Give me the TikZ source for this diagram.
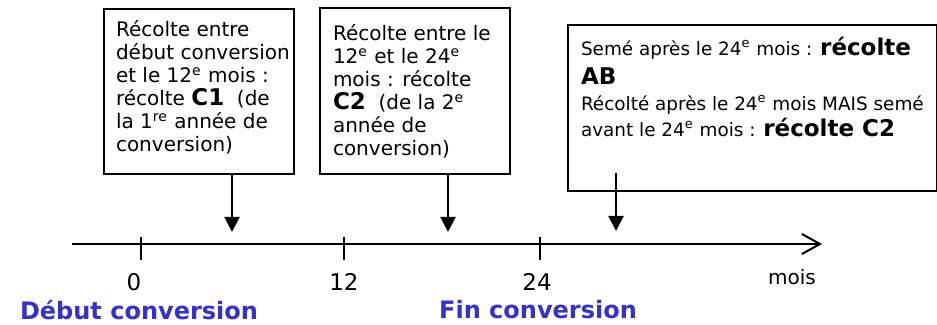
\documentclass[tikz,border=0pt]{standalone}
\usepackage{fontspec}
\setmainfont{DejaVu Sans}
\usepackage{tikz}
\usetikzlibrary{arrows.meta}
\definecolor{convblue}{RGB}{51,51,204}

\newcommand{\bigbold}[1]{{\fontsize{11.5}{13}\selectfont\bfseries #1}}

\begin{document}
\begin{tikzpicture}[
    x=0.5pt, y=-0.5pt,
    infobox/.style={
        draw, line width=1pt, anchor=north west,
        inner xsep=6pt, inner ysep=6pt,
        font=\fontsize{10}{11.5}\selectfont
    },
    drop arrow/.style={line width=1pt, -{Triangle[length=7.5pt,width=7.5pt]}},
    time axis/.style={line width=1pt, -{Straight Barb[length=9pt,width=10pt]}},
    month tick/.style={line width=0.8pt},
    month label/.style={font=\fontsize{11.5}{13}\selectfont},
    phase label/.style={font=\fontsize{12}{14}\selectfont\bfseries, text=convblue}
]
\useasboundingbox (0,0) rectangle (937,325);

% les trois periodes
\node[infobox] (c1) at (103,8)
    {\parbox[c][70.5pt][t]{83pt}{\raggedright
     Récolte entre\\
     \mbox{début conversion}\\
     et le 12\textsuperscript{e} mois :\\
     récolte \bigbold{C1}\ \ (de\\
     la 1\textsuperscript{re} année de\\
     conversion)}};

\node[infobox, inner xsep=6.5pt, inner ysep=8.5pt] (c2) at (319,7)
    {\parbox[c][66pt][t]{82pt}{\raggedright
     \mbox{Récolte entre le}\\
     12\textsuperscript{e} et le 24\textsuperscript{e}\\
     mois : récolte\\
     \bigbold{C2}\ \ (de la 2\textsuperscript{e}\\
     année de\\
     conversion)}};

\node[infobox, inner xsep=6.5pt, font=\fontsize{9.2}{13}\selectfont] (ab) at (567,24)
    {\parbox[c][71pt][t]{171.5pt}{\raggedright
     Semé après le 24\textsuperscript{e} mois : \bigbold{récolte}\\[1.5pt]
     \bigbold{AB}\\
     \mbox{Récolté après le 24\textsuperscript{e} mois MAIS semé}\\
     avant le 24\textsuperscript{e} mois : \bigbold{récolte C2}}};

% axe des mois
\coordinate (t0) at (72,244);
\coordinate (tend) at (822,244);
\draw[time axis] (t0) -- (tend);

\foreach \x/\lx/\m in {141/134/0, 344/344/12, 540/537/24} {
    \draw[month tick] (\x,237) -- (\x,260);
    \node[month label] (m\m) at (\lx,282) {\m};
}
\node[font=\fontsize{10}{12}\selectfont] (unit) at (792,277) {mois};

\node[phase label] (debut) at (139,310) {Début conversion};
\node[phase label] (fin) at (538,310) {Fin conversion};

% fleches
\coordinate (h1) at (232,232);
\coordinate (h2) at (448,232);
\coordinate (s3) at (616,173);
\coordinate (h3) at (616,231);
\draw[drop arrow] (c1.south -| h1) -- (h1);
\draw[drop arrow] (c2.south -| h2) -- (h2);
\draw[drop arrow] (s3) -- (h3);

\end{tikzpicture}
\end{document}
